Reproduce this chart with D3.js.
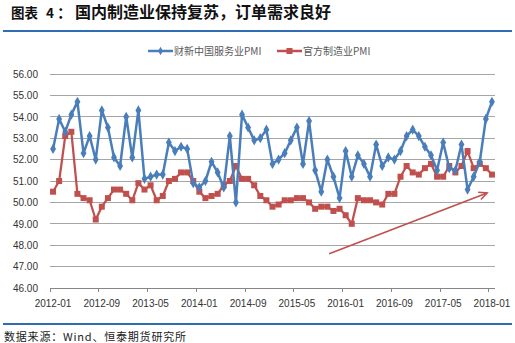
<!DOCTYPE html>
<html><head><meta charset="utf-8">
<script src="https://cdn.jsdelivr.net/npm/d3@7"></script>
<style>
html,body{margin:0;padding:0;background:#fff;}
svg{display:block;}
</style></head>
<body>
<script>
const months = ["2012-01","2012-02","2012-03","2012-04","2012-05","2012-06","2012-07","2012-08","2012-09","2012-10","2012-11","2012-12",
"2013-01","2013-02","2013-03","2013-04","2013-05","2013-06","2013-07","2013-08","2013-09","2013-10","2013-11","2013-12",
"2014-01","2014-02","2014-03","2014-04","2014-05","2014-06","2014-07","2014-08","2014-09","2014-10","2014-11","2014-12",
"2015-01","2015-02","2015-03","2015-04","2015-05","2015-06","2015-07","2015-08","2015-09","2015-10","2015-11","2015-12",
"2016-01","2016-02","2016-03","2016-04","2016-05","2016-06","2016-07","2016-08","2016-09","2016-10","2016-11","2016-12",
"2017-01","2017-02","2017-03","2017-04","2017-05","2017-06","2017-07","2017-08","2017-09","2017-10","2017-11","2017-12",
"2018-01"];
const servicesPMI = [52.5,53.9,53.3,54.1,54.7,52.3,53.1,52.0,54.3,53.5,52.1,51.7,
54.0,52.1,54.3,51.1,51.2,51.3,51.3,52.8,52.4,52.6,52.5,50.9,
50.7,51.0,51.9,51.4,50.7,53.1,50.0,54.1,53.5,52.9,53.0,53.4,
51.8,52.0,52.3,52.9,53.5,51.8,53.8,51.5,50.5,52.0,51.2,50.2,
52.4,51.2,52.2,51.8,51.2,52.7,51.7,52.1,52.0,52.4,53.1,53.4,
53.1,52.6,52.2,51.5,52.8,51.6,51.5,52.7,50.6,51.2,51.9,53.9,
54.7];
const mfgPMI = [50.5,51.0,53.1,53.3,50.4,50.2,50.1,49.2,49.8,50.2,50.6,50.6,
50.4,50.1,50.9,50.6,50.8,50.1,50.3,51.0,51.1,51.4,51.4,51.0,
50.5,50.2,50.3,50.4,50.8,51.0,51.7,51.1,51.1,50.8,50.3,50.1,
49.8,49.9,50.1,50.1,50.2,50.2,50.0,49.7,49.8,49.8,49.6,49.7,
49.4,49.0,50.2,50.1,50.1,50.0,49.9,50.4,50.4,51.2,51.7,51.4,
51.3,51.6,51.8,51.2,51.2,51.7,51.4,51.7,52.4,51.6,51.8,51.6,
51.3];
const yTicks = [46,47,48,49,50,51,52,53,54,55,56];
const xTickLabels = ["2012-01","2012-09","2013-05","2014-01","2014-09","2015-05","2016-01","2016-09","2017-05","2018-01"];
const seriesNames = ["财新中国服务业PMI","官方制造业PMI"];
const seriesColors = ["#4a7ebb","#c0504d"];
// trend arrow annotation, in data units (category index, value)
const arrowFrom = [45.3, 47.6];
const arrowTo = [71.2, 50.44];

const W = 515, H = 343;
const svg = d3.select("body").append("svg").attr("width", W).attr("height", H);

// Title
const tg = svg.append("g").attr("font-family", "'Noto Sans CJK SC', sans-serif").attr("font-weight", "bold").attr("fill", "#111");
tg.append("text").attr("x", 11).attr("y", 18).attr("font-size", 13.5).text("图表");
tg.append("text").attr("x", 46).attr("y", 18).attr("font-size", 13.5).text("4");
tg.append("text").attr("x", 57).attr("y", 18).attr("font-size", 15).text("：");
tg.append("text").attr("x", 75).attr("y", 18).attr("font-size", 16).text("国内制造业保持复苏，订单需求良好");

svg.append("rect").attr("x", 3).attr("y", 30).attr("width", 509).attr("height", 2).attr("fill", "#2f6eb5");
svg.append("rect").attr("x", 3).attr("y", 323).attr("width", 509).attr("height", 2).attr("fill", "#2f6eb5");

svg.append("text").attr("x", 4).attr("y", 340.5)
  .attr("font-family", "'Noto Sans CJK SC', sans-serif").attr("font-size", 11).attr("letter-spacing", 0.8).attr("fill", "#222")
  .text("数据来源：Wind、恒泰期货研究所");

// Scales
const x = d3.scaleBand().domain(months).range([50, 495]).padding(0);
const bw = x.bandwidth();
const xc = m => x(m) + bw / 2;
const xi = i => x.range()[0] + bw * (i + 0.5);
const y = d3.scaleLinear().domain([46, 56]).range([288, 74]);

// Gridlines
svg.append("g").selectAll("line").data(yTicks.filter(t => t > 46)).join("line")
  .attr("x1", 50).attr("x2", 495).attr("y1", d => y(d)).attr("y2", d => y(d))
  .attr("stroke", "#a6a6a6").attr("stroke-width", 1).attr("shape-rendering", "crispEdges");

// Y axis labels
const yAxis = svg.append("g").attr("transform", "translate(50,0)")
  .call(d3.axisLeft(y).tickValues(yTicks).tickFormat(d3.format(".2f")).tickSize(0).tickPadding(12));
yAxis.select(".domain").remove();
yAxis.selectAll("text").attr("font-family", "'Liberation Sans', Arial, sans-serif").attr("font-size", 10).attr("fill", "#333");

// X axis
const xAxisG = svg.append("g");
xAxisG.append("line").attr("x1", 50).attr("x2", 495).attr("y1", y(46)).attr("y2", y(46))
  .attr("stroke", "#868686").attr("stroke-width", 1).attr("shape-rendering", "crispEdges");
xAxisG.selectAll("line.tick").data(xTickLabels).join("line").attr("class", "tick")
  .attr("x1", d => x(d)).attr("x2", d => x(d)).attr("y1", y(46)).attr("y2", y(46) + 4)
  .attr("stroke", "#868686").attr("shape-rendering", "crispEdges");
xAxisG.selectAll("text").data(xTickLabels).join("text")
  .attr("x", d => xc(d)).attr("y", 307).attr("text-anchor", "middle")
  .attr("font-family", "'Liberation Sans', Arial, sans-serif").attr("font-size", 10).attr("fill", "#333")
  .text(d => d);

// Lines
const line = d3.line().x((d, i) => xc(months[i])).y(d => y(d));
svg.append("path").datum(mfgPMI).attr("d", line).attr("fill", "none")
  .attr("stroke", seriesColors[1]).attr("stroke-width", 2.25).attr("stroke-linejoin", "round");
svg.append("g").selectAll("rect").data(mfgPMI).join("rect")
  .attr("x", (d, i) => xc(months[i]) - 3).attr("y", d => y(d) - 3)
  .attr("width", 6).attr("height", 6).attr("fill", seriesColors[1]);

svg.append("path").datum(servicesPMI).attr("d", line).attr("fill", "none")
  .attr("stroke", seriesColors[0]).attr("stroke-width", 2.5).attr("stroke-linejoin", "round");
const diamond = d3.symbol().type(d3.symbolDiamond).size(30);
svg.append("g").selectAll("path").data(servicesPMI).join("path")
  .attr("transform", (d, i) => `translate(${xc(months[i])},${y(d)})`)
  .attr("d", diamond).attr("fill", seriesColors[0]);

// Arrow annotation
const ax1 = xi(arrowFrom[0]), ay1 = y(arrowFrom[1]), ax2 = xi(arrowTo[0]), ay2 = y(arrowTo[1]);
const ang = Math.atan2(ay2 - ay1, ax2 - ax1);
const head = 9, spread = 0.45;
svg.append("line").attr("x1", ax1).attr("y1", ay1).attr("x2", ax2).attr("y2", ay2)
  .attr("stroke", "#c0504d").attr("stroke-width", 1.6);
svg.append("path")
  .attr("d", `M${ax2 - head * Math.cos(ang - spread)},${ay2 - head * Math.sin(ang - spread)}L${ax2},${ay2}L${ax2 - head * Math.cos(ang + spread)},${ay2 - head * Math.sin(ang + spread)}`)
  .attr("fill", "none").attr("stroke", "#c0504d").attr("stroke-width", 1.6);

// Legend
const lg = svg.append("g").attr("font-family", "'Noto Sans CJK SC', sans-serif").attr("font-size", 10).attr("fill", "#595959");
const legendX = [148, 277];
seriesNames.forEach((name, k) => {
  const g = lg.append("g").attr("transform", `translate(${legendX[k]},51)`);
  g.append("line").attr("x1", 0).attr("x2", 25).attr("stroke", seriesColors[k]).attr("stroke-width", 2.5);
  if (k === 0) g.append("path").attr("transform", "translate(12.5,0)").attr("d", d3.symbol().type(d3.symbolDiamond).size(20)).attr("fill", seriesColors[k]);
  else g.append("rect").attr("x", 9.5).attr("y", -3).attr("width", 6).attr("height", 6).attr("fill", seriesColors[k]);
  g.append("text").attr("x", 26).attr("y", 3.5).attr("fill", "#595959").text(name);
});
</script>
</body></html>
